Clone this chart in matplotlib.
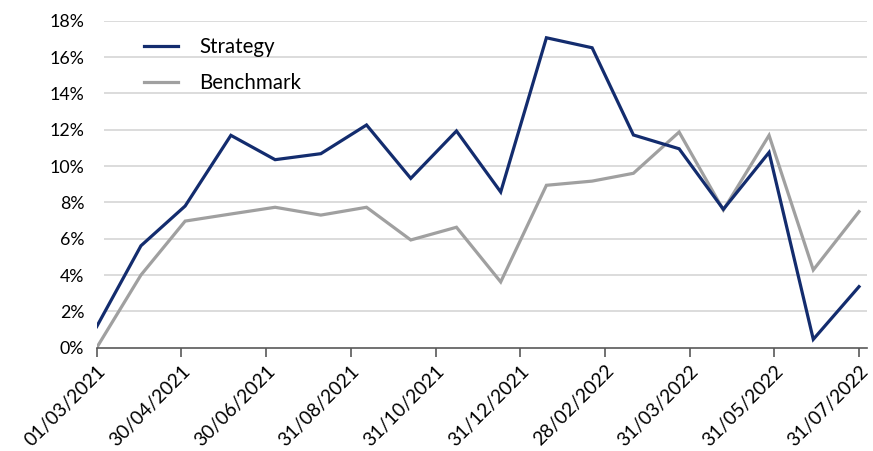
import numpy as np
import matplotlib
matplotlib.use("Agg")
import matplotlib.pyplot as plt

dates = ["2021-03-01", "2021-03-31", "2021-04-30", "2021-05-31", "2021-06-30",
         "2021-07-31", "2021-08-31", "2021-09-30", "2021-10-31", "2021-11-30",
         "2021-12-31", "2022-01-31", "2022-02-28", "2022-03-31", "2022-04-30",
         "2022-05-31", "2022-06-30", "2022-07-31"]
strategy = [1.16, 5.61, 7.80, 11.69, 10.35, 10.68, 12.26, 9.32, 11.93, 8.57,
            17.06, 16.51, 11.71, 10.95, 7.62, 10.75, 0.46, 3.36]
benchmark = [0.0, 4.0, 6.97, 7.36, 7.73, 7.30, 7.73, 5.93, 6.63, 3.62,
             8.94, 9.17, 9.60, 11.87, 7.58, 11.69, 4.28, 7.49]
tick_labels = ["01/03/2021", "30/04/2021", "30/06/2021", "31/08/2021", "31/10/2021",
               "31/12/2021", "28/02/2022", "31/03/2022", "31/05/2022", "31/07/2022"]
y_ticks = list(range(0, 19, 2))

plt.rcParams['font.family'] = ['Lato', 'DejaVu Sans']

d = np.array(dates, dtype="datetime64[D]")
x = (d - d[0]).astype(float)
span = x[-1]

fig = plt.figure(figsize=(8.73, 4.51), dpi=100)
ax = fig.add_axes([96.7 / 873, 1 - 347.7 / 451, (867 - 96.7) / 873, (347.7 - 20.7) / 451])

px_per_day = (859.3 - 96.7) / span
xmax = span + 8 / px_per_day
ax.set_xlim(0, xmax)
ax.set_ylim(0, 18)

grid_x0 = 7.5 / px_per_day
for yv in y_ticks[1:]:
    ax.hlines(yv, grid_x0, xmax, color="#D9D9D9", lw=1.3, zorder=1)

ax.plot(x, strategy, color="#132C6E", lw=2.3, label="Strategy", zorder=3, solid_joinstyle="miter")
ax.plot(x, benchmark, color="#A0A0A0", lw=2.3, label="Benchmark", zorder=2, solid_joinstyle="miter")

for s in ["top", "right", "left"]:
    ax.spines[s].set_visible(False)
ax.spines["bottom"].set_color("#595959")
ax.spines["bottom"].set_linewidth(1.2)

ax.set_yticks(y_ticks)
ax.set_yticklabels([f"{v}%" for v in y_ticks], fontsize=12.8, color="#000000")
ax.tick_params(axis="y", length=0, pad=9)

ax.set_xticks(np.linspace(0, span, len(tick_labels)))
ax.set_xticklabels(tick_labels, rotation=45, ha="right", rotation_mode="anchor",
                   fontsize=13.8, color="#000000")
ax.tick_params(axis="x", length=6.5, width=1.2, color="#595959", direction="out", pad=4)

leg = ax.legend(loc="upper left", bbox_to_anchor=(0.038, 1.007), frameon=False,
                fontsize=14.8, handlelength=1.65, handletextpad=1.0, labelspacing=0.78)

fig.savefig("out.png", dpi=100)
